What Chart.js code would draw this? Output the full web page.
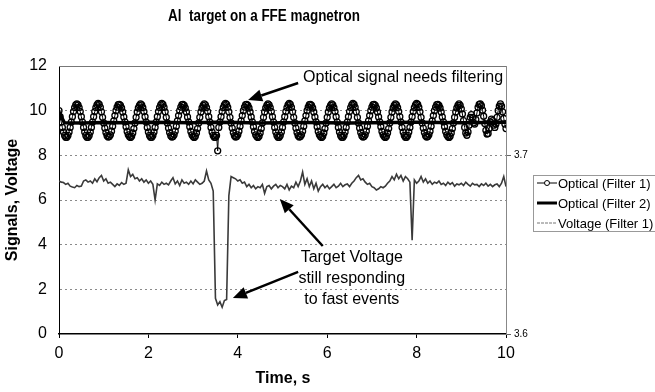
<!DOCTYPE html>
<html>
<head>
<meta charset="utf-8">
<script src="https://cdn.jsdelivr.net/npm/chart.js@4.4.1/dist/chart.umd.min.js"></script>
<style>
html, body { margin: 0; padding: 0; background: #fff; }
</style>
</head>
<body>
<canvas id="sig" width="655" height="392"></canvas>
<script>
// sampling steps of the recorded traces (s)
const opt1Step = 0.025;
const voltStep = 0.05;

// Optical (Filter 1), one value every 0.025 s from 0 to 10 s (one row per cycle)
const opt1Values = [
    10.00, 9.73, 9.49, 9.25, 9.04, 8.89, 8.81, 8.81, 8.89, 9.04, 9.25, 9.49, 9.73, 9.96, 10.14, 10.26,
    10.30, 10.26, 10.14, 9.96, 9.73, 9.49, 9.25, 9.04, 8.89, 8.81, 8.81, 8.89, 9.04, 9.25, 9.49, 9.73, 9.96, 10.14, 10.26,
    10.33, 10.28, 10.15, 9.95, 9.70, 9.45, 9.22, 9.02, 8.88, 8.82, 8.84, 8.92, 9.08, 9.30, 9.54, 9.78, 10.00, 10.16, 10.27,
    10.28, 10.24, 10.12, 9.94, 9.72, 9.50, 9.28, 9.07, 8.92, 8.84, 8.80, 8.86, 9.00, 9.20, 9.45, 9.70, 9.94, 10.12, 10.24,
    10.30, 10.26, 10.14, 9.96, 9.73, 9.49, 9.25, 9.04, 8.89, 8.81, 8.81, 8.89, 9.04, 9.25, 9.49, 9.73, 9.96, 10.14, 10.26,
    10.33, 10.28, 10.15, 9.95, 9.70, 9.45, 9.22, 9.02, 8.88, 8.82, 8.84, 8.92, 9.08, 9.30, 9.54, 9.78, 10.00, 10.16, 10.27,
    10.28, 10.24, 10.12, 9.94, 9.72, 9.50, 9.28, 9.07, 8.92, 8.84, 8.80, 8.86, 9.00, 9.20, 9.45, 9.70, 9.94, 10.12, 10.24,
    10.30, 10.26, 10.14, 9.96, 9.73, 9.49, 9.25, 9.04, 8.89, 8.81, 8.81, 8.89, 8.20, 9.25, 9.49, 9.73, 9.96, 10.14, 10.26,
    10.33, 10.28, 10.15, 9.95, 9.70, 9.45, 9.22, 9.02, 8.88, 8.82, 8.84, 8.92, 9.08, 9.30, 9.54, 9.78, 10.00, 10.16, 10.27,
    10.28, 10.24, 10.12, 9.94, 9.72, 9.50, 9.28, 9.07, 8.92, 8.84, 8.80, 8.86, 9.00, 9.20, 9.45, 9.70, 9.94, 10.12, 10.24,
    10.30, 10.26, 10.14, 9.96, 9.73, 9.49, 9.25, 9.04, 8.89, 8.81, 8.81, 8.89, 9.04, 9.25, 9.49, 9.73, 9.96, 10.14, 10.26,
    10.33, 10.28, 10.15, 9.95, 9.70, 9.45, 9.22, 9.02, 8.88, 8.82, 8.84, 8.92, 9.08, 9.30, 9.54, 9.78, 10.00, 10.16, 10.27,
    10.28, 10.24, 10.12, 9.94, 9.72, 9.50, 9.28, 9.07, 8.92, 8.84, 8.80, 8.86, 9.00, 9.20, 9.45, 9.70, 9.94, 10.12, 10.24,
    10.30, 10.26, 10.14, 9.96, 9.73, 9.49, 9.25, 9.04, 8.89, 8.81, 8.81, 8.89, 9.04, 9.25, 9.49, 9.73, 9.96, 10.14, 10.26,
    10.33, 10.28, 10.15, 9.95, 9.70, 9.45, 9.22, 9.02, 8.88, 8.82, 8.84, 8.92, 9.08, 9.30, 9.54, 9.78, 10.00, 10.16, 10.27,
    10.28, 10.24, 10.12, 9.94, 9.72, 9.50, 9.28, 9.07, 8.92, 8.84, 8.80, 8.86, 9.00, 9.20, 9.45, 9.70, 9.94, 10.12, 10.24,
    10.30, 10.26, 10.14, 9.96, 9.73, 9.49, 9.25, 9.04, 8.89, 8.81, 8.81, 8.89, 9.04, 9.25, 9.49, 9.73, 9.96, 10.14, 10.26,
    10.33, 10.28, 10.15, 9.95, 9.70, 9.45, 9.22, 9.02, 8.88, 8.82, 8.84, 8.92, 9.08, 9.30, 9.54, 9.78, 10.00, 10.16, 10.27,
    10.28, 10.24, 10.12, 9.94, 9.72, 9.50, 9.28, 9.07, 8.92, 8.84, 8.80, 8.86, 9.00, 9.20, 9.45, 9.70, 9.94, 10.12, 10.24,
    10.30, 10.24, 10.08, 9.85, 9.55, 9.25, 9.00, 8.90, 9.05, 9.35, 9.70, 9.82, 9.70, 9.45, 9.40, 9.60, 9.90, 10.15, 10.28,
    10.30, 10.22, 10.02, 9.75, 9.42, 9.12, 8.95, 8.98, 9.20, 9.50, 9.62, 9.55, 9.35, 9.25, 9.40, 9.70, 10.00, 10.20, 10.30,
    10.20, 9.95, 9.65, 9.40, 9.20
];

// Optical (Filter 2)
const opt2Time = [0, 0.12, 0.5, 1.0, 1.5, 2.0, 2.5, 3.0, 3.5, 4.0, 4.5, 5.0, 5.5, 6.0, 6.5, 7.0, 7.5, 8.0, 8.5, 9.0, 9.5, 10.0];
const opt2Values = [9.95, 9.46, 9.45, 9.47, 9.46, 9.48, 9.47, 9.46, 9.48, 9.47, 9.45, 9.46, 9.47, 9.46, 9.45, 9.46, 9.47, 9.48, 9.47, 9.46, 9.47, 9.48];

// Voltage (Filter 1), one value every 0.05 s
const voltValues = [
    6.85, 6.80, 6.78, 6.70, 6.75, 6.62, 6.58, 6.55, 6.65, 6.60,
    6.62, 6.85, 6.90, 6.80, 6.85, 6.75, 6.95, 6.82, 7.00, 7.10,
    6.85, 6.95, 6.75, 6.80, 6.70, 6.60, 6.72, 6.65, 6.78, 6.70,
    6.75, 7.35, 7.05, 7.15, 6.95, 7.00, 6.85, 6.95, 6.80, 6.90,
    6.75, 6.85, 6.70, 6.00, 6.72, 6.65, 6.80, 6.70, 6.75, 6.68,
    6.85, 7.00, 6.72, 6.85, 6.65, 6.90, 6.75, 6.80, 6.70, 6.85,
    6.72, 6.90, 6.80, 6.70, 6.75, 6.85, 7.30, 6.90, 6.75, 6.40,
    1.60, 1.30, 1.45, 1.20, 1.50, 1.55, 6.20, 7.05, 7.00, 6.95,
    6.85, 6.90, 6.75, 6.80, 6.60, 6.70, 6.55, 6.65, 6.50, 6.60,
    6.55, 6.70, 6.30, 6.60, 6.65, 6.50, 6.62, 6.70, 6.55, 6.65,
    6.60, 6.50, 6.70, 6.45, 6.62, 6.55, 6.80, 6.60, 6.85, 7.25,
    6.70, 6.95, 6.60, 6.85, 6.50, 6.75, 6.40, 6.60, 6.70, 6.55,
    6.65, 6.50, 6.60, 6.70, 6.55, 6.62, 6.75, 6.60, 6.68, 6.72,
    6.60, 6.75, 6.85, 7.00, 7.10, 6.90, 6.95, 6.80, 6.70, 6.75,
    6.60, 6.55, 6.45, 6.50, 6.60, 6.55, 6.62, 6.75, 6.85, 7.05,
    6.90, 7.15, 6.95, 7.10, 6.85, 7.05, 6.95, 6.80, 4.20, 6.90,
    6.75, 6.85, 7.05, 6.80, 6.95, 6.75, 6.85, 6.70, 6.80, 6.75,
    6.85, 6.70, 6.75, 6.65, 6.80, 6.70, 6.78, 6.62, 6.72, 6.68,
    6.75, 6.65, 6.80, 6.70, 6.62, 6.75, 6.68, 6.70, 6.60, 6.72,
    6.65, 6.75, 6.62, 6.70, 6.60, 6.68, 6.72, 6.60, 6.75, 7.05,
    6.60
];

// secondary axis ticks
const rightTicks = [3.6, 3.7];

// text notes and arrows, in data units (tail -> head)
const notes = [
    { text: 'Optical signal needs filtering', x: 5.46, y: 11.46, align: 'left' },
    { text: 'Target Voltage', x: 6.55, y: 3.40, align: 'center' },
    { text: 'still responding', x: 6.55, y: 2.46, align: 'center' },
    { text: 'to fast events', x: 6.55, y: 1.52, align: 'center' },
];
const arrows = [
    [5.35, 11.24, 4.23, 10.48],
    [5.90, 3.94, 4.94, 6.05],
    [5.35, 2.78, 3.89, 1.61],
];

const opt1Points = opt1Values.map((v, i) => ({ x: +(i * opt1Step).toFixed(3), y: v }));
const voltPoints = voltValues.map((v, i) => ({ x: +(i * voltStep).toFixed(2), y: v }));
const opt2Points = opt2Values.map((v, i) => ({ x: opt2Time[i], y: v }));

const FONT = '"Liberation Sans", Arial, sans-serif';

function arrow(ctx, x1, y1, x2, y2) {
    const a = Math.atan2(y2 - y1, x2 - x1);
    const hl = 14, hw = 6;
    const bx = x2 - hl * Math.cos(a), by = y2 - hl * Math.sin(a);
    ctx.beginPath();
    ctx.moveTo(x1, y1);
    ctx.lineTo(bx, by);
    ctx.lineWidth = 2.5;
    ctx.strokeStyle = '#000';
    ctx.stroke();
    ctx.beginPath();
    ctx.moveTo(x2, y2);
    ctx.lineTo(bx + hw * Math.sin(a), by - hw * Math.cos(a));
    ctx.lineTo(bx - hw * Math.sin(a), by + hw * Math.cos(a));
    ctx.closePath();
    ctx.fillStyle = '#000';
    ctx.fill();
}

const decor = {
    id: 'decor',
    afterDraw(chart) {
        const ctx = chart.ctx;
        const xs = chart.scales.x, ys = chart.scales.y;
        const area = chart.chartArea;
        ctx.save();

        // frame top
        ctx.strokeStyle = '#777';
        ctx.lineWidth = 1;
        ctx.beginPath();
        ctx.moveTo(area.left, area.top + 0.5);
        ctx.lineTo(area.right, area.top + 0.5);
        ctx.stroke();

        // title (narrow bold face)
        ctx.save();
        ctx.translate(264, 17);
        ctx.scale(0.84, 1);
        ctx.font = 'bold 16px ' + FONT;
        ctx.fillStyle = '#000';
        ctx.textAlign = 'center';
        ctx.textBaseline = 'middle';
        ctx.fillText('Al  target on a FFE magnetron', 0, 0);
        ctx.restore();

        // axis titles
        ctx.font = 'bold 16px ' + FONT;
        ctx.fillStyle = '#000';
        ctx.textAlign = 'center';
        ctx.textBaseline = 'middle';
        ctx.fillText('Time, s', 283, 379);
        ctx.save();
        ctx.translate(13, 200);
        ctx.rotate(-Math.PI / 2);
        ctx.fillText('Signals, Voltage', 0, 0);
        ctx.restore();

        // notes
        ctx.font = '16px ' + FONT;
        notes.forEach(n => {
            ctx.textAlign = n.align;
            ctx.fillText(n.text, xs.getPixelForValue(n.x), ys.getPixelForValue(n.y));
        });
        arrows.forEach(a => arrow(ctx,
            xs.getPixelForValue(a[0]), ys.getPixelForValue(a[1]),
            xs.getPixelForValue(a[2]), ys.getPixelForValue(a[3])));

        // legend
        ctx.strokeStyle = '#999';
        ctx.lineWidth = 1;
        ctx.strokeRect(533.5, 175.5, 130, 56);
        ctx.font = '13px ' + FONT;
        ctx.textAlign = 'left';
        ctx.fillStyle = '#000';
        const rows = [183, 203, 223];
        chart.data.datasets.forEach((ds, i) => {
            const y = rows[i];
            ctx.beginPath();
            ctx.moveTo(537, y);
            ctx.lineTo(557, y);
            ctx.lineWidth = ds.legendWidth;
            ctx.strokeStyle = ds.legendColor;
            ctx.setLineDash(ds.legendDash || []);
            ctx.stroke();
            ctx.setLineDash([]);
            if (ds.pointRadius > 0) {
                ctx.beginPath();
                ctx.arc(547, y, 2.5, 0, Math.PI * 2);
                ctx.fillStyle = '#fff';
                ctx.fill();
                ctx.lineWidth = 1;
                ctx.strokeStyle = '#000';
                ctx.stroke();
            }
            ctx.fillStyle = '#000';
            ctx.fillText(ds.label, 558, y + 1);
        });
        ctx.restore();
    }
};

new Chart(document.getElementById('sig'), {
    type: 'line',
    data: {
        datasets: [
            {
                label: 'Optical (Filter 1)',
                data: opt1Points,
                borderColor: '#000',
                borderWidth: 1,
                pointRadius: 3,
                pointBorderWidth: 1.3,
                pointBackgroundColor: 'rgba(255,255,255,0)',
                pointBorderColor: '#000',
                legendWidth: 1,
                legendColor: '#000',
                order: 1,
            },
            {
                label: 'Optical (Filter 2)',
                data: opt2Points,
                borderColor: '#000',
                borderWidth: 3.5,
                pointRadius: 0,
                legendWidth: 3,
                legendColor: '#000',
                order: 0,
            },
            {
                label: 'Voltage (Filter 1)',
                data: voltPoints,
                borderColor: '#3a3a3a',
                borderWidth: 1.6,
                pointRadius: 0,
                legendWidth: 1,
                legendColor: '#777',
                legendDash: [3, 1],
                order: 2,
            },
        ],
    },
    options: {
        responsive: false,
        animation: false,
        layout: { padding: { top: 66, left: 0, right: 0, bottom: 0 } },
        plugins: {
            legend: { display: false },
            title: { display: false },
            tooltip: { enabled: false },
        },
        scales: {
            x: {
                type: 'linear',
                min: 0,
                max: 10,
                ticks: { stepSize: 2, color: '#000', font: { family: FONT, size: 16 }, padding: 6 },
                grid: { drawOnChartArea: false, tickLength: 4, color: '#000' },
                border: { color: '#000', width: 1.5 },
                afterFit: s => { s.height = 58; },
            },
            y: {
                position: 'left',
                min: 0,
                max: 12,
                ticks: { stepSize: 2, color: '#000', font: { family: FONT, size: 16 }, padding: 12 },
                grid: {
                    drawTicks: false,
                    color: c => (c.tick.value === 0 || c.tick.value === 12) ? 'rgba(0,0,0,0)' : '#8a8a8a',
                },
                border: { color: '#000', width: 1, dash: [2, 3] },
                afterFit: s => { s.width = 59; },
            },
            y2: {
                position: 'right',
                min: 3.6,
                max: 3.75,
                afterBuildTicks: s => { s.ticks = rightTicks.map(v => ({ value: v })); },
                ticks: { color: '#000', font: { family: FONT, size: 10 }, padding: 3, callback: v => v.toFixed(1) },
                grid: { drawOnChartArea: false, tickLength: 5, color: '#666' },
                border: { color: '#888', width: 1 },
                afterFit: s => { s.width = 149; },
            },
        },
    },
    plugins: [decor],
});
</script>
</body>
</html>
